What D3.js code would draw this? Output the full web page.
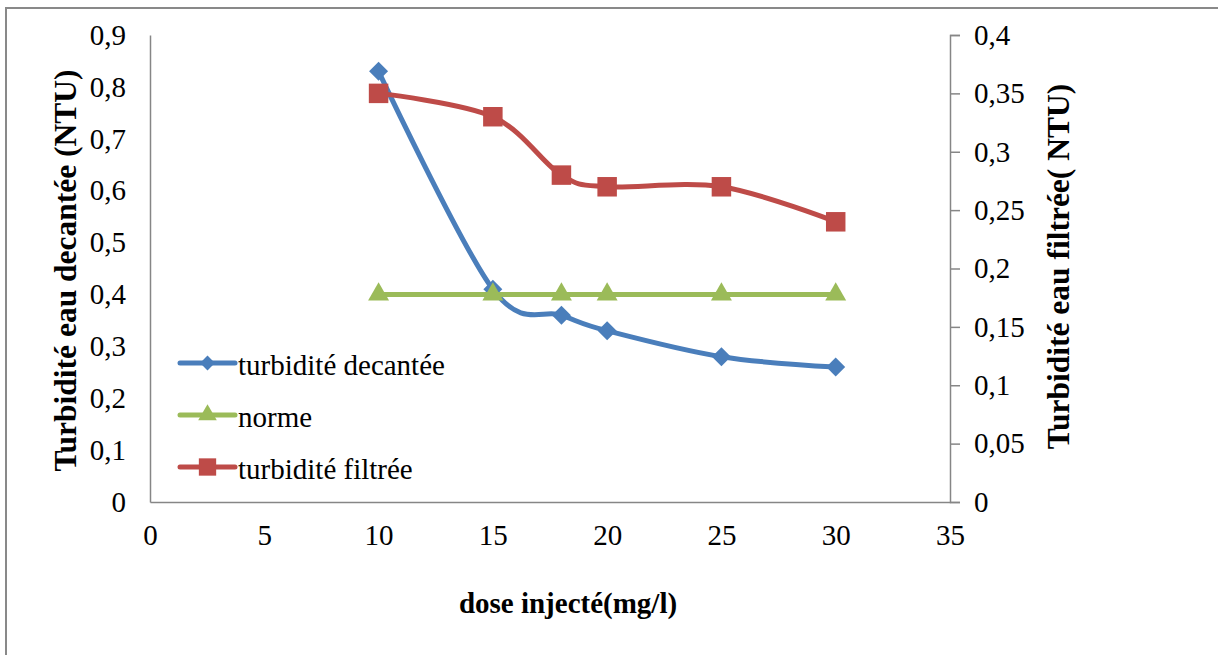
<!DOCTYPE html>
<html>
<head>
<meta charset="utf-8">
<script src="https://cdn.jsdelivr.net/npm/d3@7"></script>
<style>
	body { margin: 0; background: #fff; }
	svg { display: block; }
	text { font-family: "Liberation Serif", "Times New Roman", serif; }
</style>
</head>
<body>
<div id="canvas"></div>
<script>
const doses = [10, 15, 18, 20, 25, 30];
const decantee = [0.83, 0.41, 0.36, 0.33, 0.28, 0.26];
const norme = [0.4, 0.4, 0.4, 0.4, 0.4, 0.4];
const filtree = [0.35, 0.33, 0.28, 0.27, 0.27, 0.24];

const xTicks = [0, 5, 10, 15, 20, 25, 30, 35];
const yLeftTicks = [0, 0.1, 0.2, 0.3, 0.4, 0.5, 0.6, 0.7, 0.8, 0.9];
const yRightTicks = [0, 0.05, 0.1, 0.15, 0.2, 0.25, 0.3, 0.35, 0.4];

const seriesNames = ['turbidité decantée', 'norme', 'turbidité filtrée'];

function onLoad () {
	const W = 1218, H = 655;
	const m = { left: 150, right: 950, top: 35, bottom: 502 };
	const axisColor = '#868686';
	const serif = '"Liberation Serif", "Times New Roman", serif';
	const fontSize = 29;

	const svg = d3.select('#canvas')
	.append('svg')
		.attr('width', W)
		.attr('height', H);

	// outer frame
	svg.append('rect')
		.attr('x', 6)
		.attr('y', 8)
		.attr('width', W + 20)
		.attr('height', H + 20)
		.style('fill', 'none')
		.style('stroke', '#898989')
		.style('stroke-width', 2);

	const x = d3.scaleLinear().domain([0, 35]).range([m.left, m.right]);
	const yL = d3.scaleLinear().domain([0, 0.9]).range([m.bottom, m.top]);
	const yR = d3.scaleLinear().domain([0, 0.4]).range([m.bottom, m.top]);

	const fmt = d => String(d).replace('.', ',');

	const styleAxis = g => {
		g.select('.domain').style('stroke', axisColor).style('stroke-width', 1.5);
		g.selectAll('.tick line').style('stroke', axisColor).style('stroke-width', 1.5);
		g.selectAll('.tick text')
			.style('font-family', serif)
			.style('font-size', `${fontSize}px`)
			.style('fill', '#000');
	};

	svg.append('g')
		.attr('transform', `translate(0,${m.bottom})`)
		.call(d3.axisBottom(x).tickValues(xTicks).tickSize(0).tickPadding(22).tickFormat(fmt))
		.call(styleAxis);

	svg.append('g')
		.attr('transform', `translate(${m.left},0)`)
		.call(d3.axisLeft(yL).tickValues(yLeftTicks).tickSize(0).tickPadding(24).tickFormat(fmt))
		.call(styleAxis);

	svg.append('g')
		.attr('transform', `translate(${m.right},0)`)
		.call(d3.axisRight(yR).tickValues(yRightTicks).tickSizeOuter(10).tickSizeInner(10).tickPadding(14).tickFormat(fmt))
		.call(styleAxis);

	// axis titles
	svg.append('text')
		.attr('transform', `translate(65,${(m.top + m.bottom) / 2 + 2}) rotate(-90)`)
		.attr('text-anchor', 'middle')
		.attr('dominant-baseline', 'central')
		.style('font-family', serif)
		.style('font-weight', 'bold')
		.style('font-size', '31.5px')
		.text('Turbidité eau decantée (NTU)');

	svg.append('text')
		.attr('transform', `translate(1058,${(m.top + m.bottom) / 2 - 2}) rotate(-90)`)
		.attr('text-anchor', 'middle')
		.attr('dominant-baseline', 'central')
		.style('font-family', serif)
		.style('font-weight', 'bold')
		.style('font-size', '31.5px')
		.text('Turbidité eau filtrée( NTU)');

	svg.append('text')
		.attr('x', 568)
		.attr('y', 603)
		.attr('text-anchor', 'middle')
		.attr('dominant-baseline', 'central')
		.style('font-family', serif)
		.style('font-weight', 'bold')
		.style('font-size', `${fontSize}px`)
		.text('dose injecté(mg/l)');

	const series = [
		{ name: seriesNames[0], values: decantee, y: yL, color: '#4A7EBB', symbol: d3.symbolSquare, size: 180, legendSize: 110, rot: 45 },
		{ name: seriesNames[1], values: norme, y: yL, color: '#9BBB59', symbol: d3.symbolTriangle, size: 190, legendSize: 150, rot: 0 },
		{ name: seriesNames[2], values: filtree, y: yR, color: '#BE4B48', symbol: d3.symbolSquare, size: 380, legendSize: 300, rot: 0 }
	];

	const curve = d3.curveCardinal.tension(0);

	series.forEach(s => {
		const pts = doses.map((d, i) => [x(d), s.y(s.values[i])]);
		const g = svg.append('g');
		g.append('path')
			.attr('d', d3.line().curve(curve)(pts))
			.style('fill', 'none')
			.style('stroke', s.color)
			.style('stroke-width', 5)
			.style('stroke-linejoin', 'round');
		g.selectAll('path.mk')
			.data(pts)
			.join('path')
			.attr('class', 'mk')
			.attr('transform', d => `translate(${d}) rotate(${s.rot})`)
			.attr('d', d3.symbol(s.symbol, s.size))
			.style('fill', s.color);
	});

	// legend
	const legend = svg.append('g')
		.selectAll('g')
		.data(series)
		.join('g')
		.attr('transform', (d, i) => `translate(180,${363 + i * 52})`);
	legend.append('line')
		.attr('x1', 0).attr('x2', 55)
		.attr('y1', 0).attr('y2', 0)
		.style('stroke', d => d.color)
		.style('stroke-width', 5)
		.style('stroke-linecap', 'round');
	legend.append('path')
		.attr('transform', d => `translate(27.5,0) rotate(${d.rot})`)
		.attr('d', d => d3.symbol(d.symbol, d.legendSize)())
		.style('fill', d => d.color);
	legend.append('text')
		.attr('x', 58)
		.attr('y', 2)
		.attr('dominant-baseline', 'central')
		.style('font-family', serif)
		.style('font-size', `${fontSize}px`)
		.text(d => d.name);
}

onLoad();
</script>
</body>
</html>
